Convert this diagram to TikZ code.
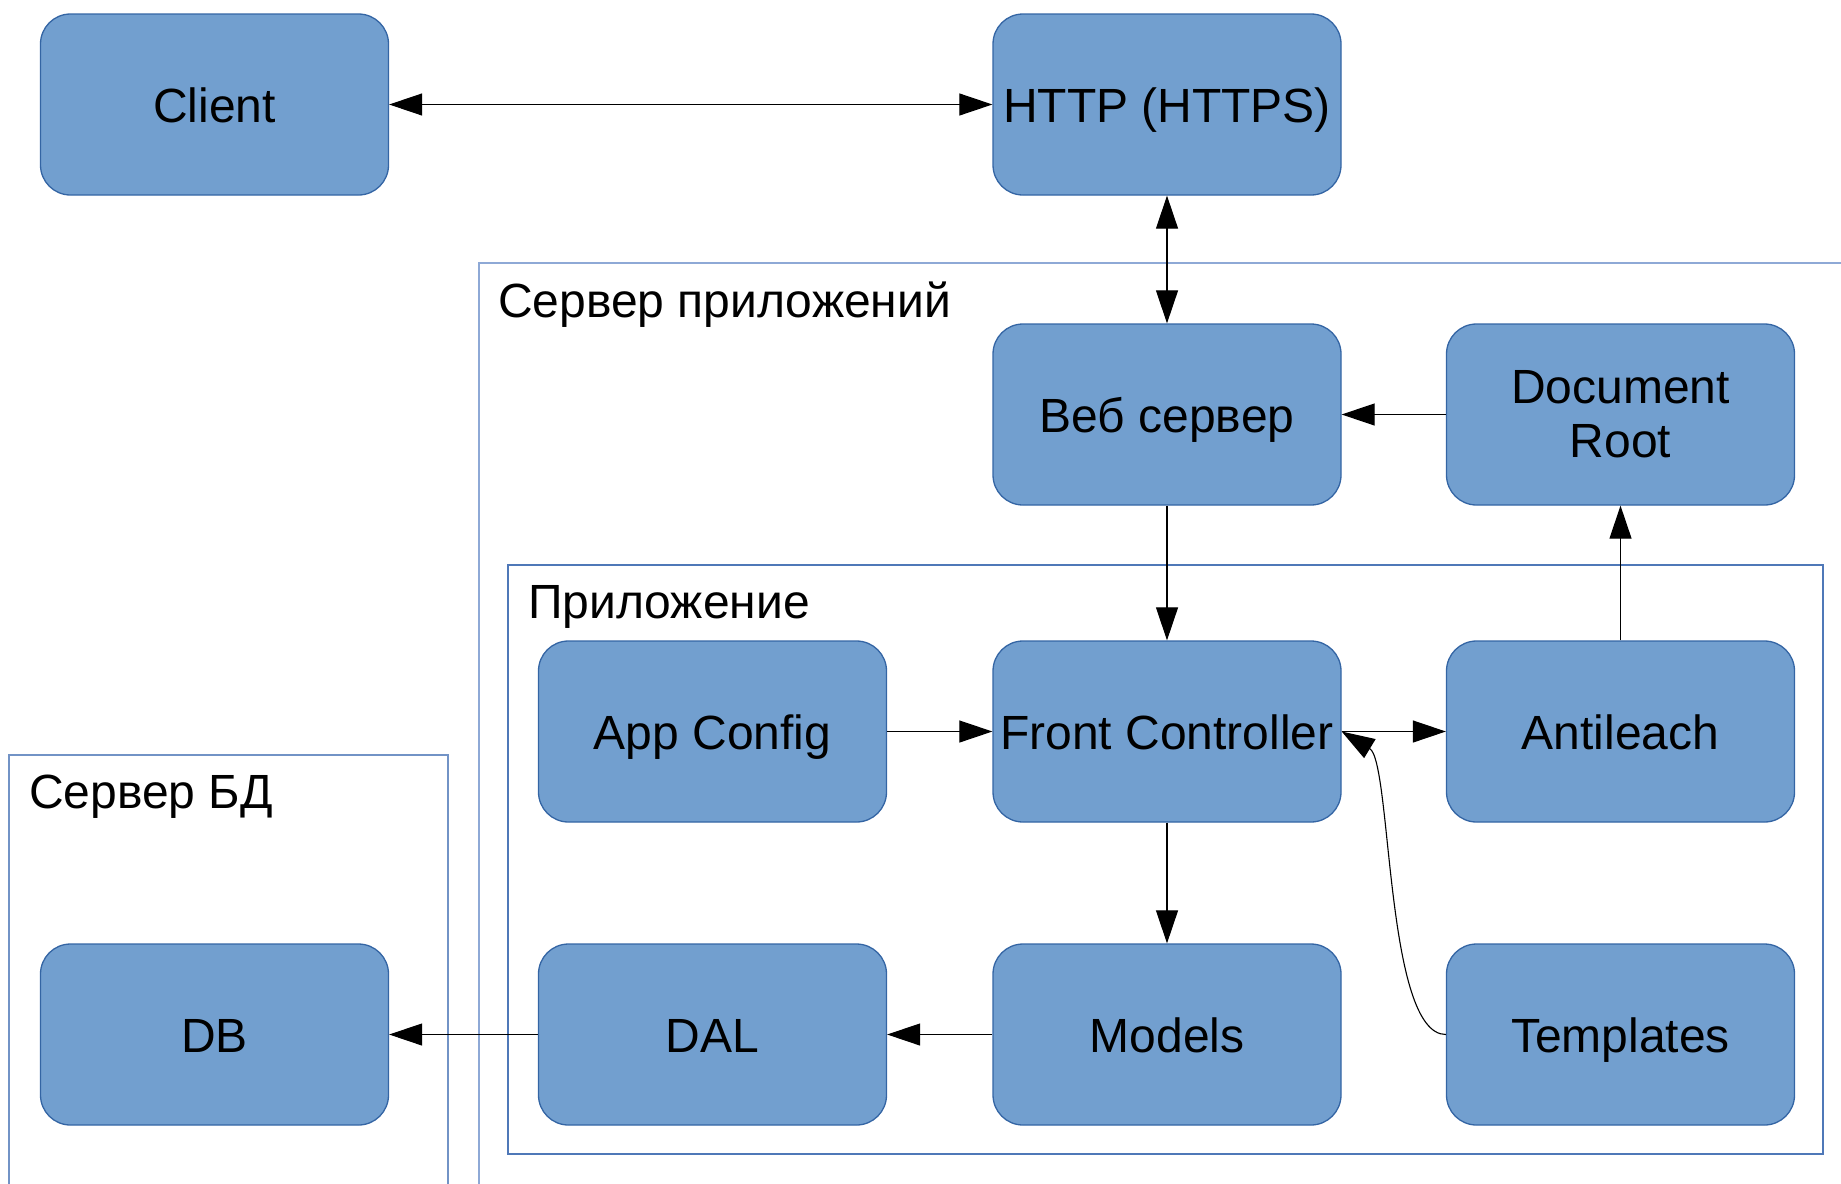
\documentclass[tikz,border=0pt]{standalone}
\usepackage{fontspec}
\setmainfont{Liberation Sans}
\usetikzlibrary{arrows.meta}
\definecolor{boxfill}{HTML}{729FCF}
\definecolor{boxline}{HTML}{3465A4}
\definecolor{contA}{HTML}{8EA9D6}
\definecolor{contB}{HTML}{4F78B8}
\tikzset{
  blkbase/.style={draw=boxline, line width=1.3pt, fill=boxfill, rounded corners=30pt,
    minimum width=348pt, minimum height=181pt, inner sep=0pt, align=center,
    font=\fontsize{48}{54}\selectfont},
  blk/.style={blkbase, text height=35pt, text depth=0pt},
  cont/.style={line width=1.3pt},
  lbl/.style={anchor=base west, inner sep=0pt, font=\fontsize{48}{54}\selectfont},
  conn/.style={line width=1.1pt, -{Triangle[length=33pt,width=22pt]}},
  dconn/.style={line width=1.1pt, {Triangle[length=33pt,width=22pt]}-{Triangle[length=33pt,width=22pt]}}
}
\begin{document}
\begin{tikzpicture}[x=1pt,y=-1pt]
\useasboundingbox (0,0) rectangle (1841,1183);
\clip (0,0) rectangle (1841,1183);
% containers
\draw[cont, draw=contA] (479,263) rectangle (1860,1200);
\draw[cont, draw=contB] (508,565) rectangle (1823,1154);
\draw[cont, draw=contB!80!white] (9,755) rectangle (448,1200);
\node[lbl] (lapp) at (498,317) {Сервер приложений};
\node[lbl] (lprog) at (528,618) {Приложение};
\node[lbl] (ldb) at (29,808) {Сервер БД};
% nodes
\node[blk] (client) at (214.5,104.5) {Client};
\node[blk] (http) at (1167,104.5) {HTTP (HTTPS)};
\node[blk] (web) at (1167,414.5) {Веб сервер};
\node[blkbase] (docroot) at (1620.5,414.5) {Document\\Root};
\node[blk] (appcfg) at (712.5,731.5) {App Config};
\node[blk] (fc) at (1167,731.5) {Front Controller};
\node[blk] (anti) at (1620.5,731.5) {Antileach};
\node[blk] (db) at (214.5,1034.5) {DB};
\node[blk] (dal) at (712.5,1034.5) {DAL};
\node[blk] (models) at (1167,1034.5) {Models};
\node[blk] (tmpl) at (1620.5,1034.5) {Templates};
% connectors
\draw[dconn] (client.east) -- (http.west);
\draw[dconn] (http.south) -- (web.north);
\draw[conn] (docroot.west) -- (web.east);
\draw[conn] (web.south) -- (fc.north);
\draw[conn] (anti.north) -- (docroot.south);
\draw[conn] (appcfg.east) -- (fc.west);
\draw[conn] (fc.east) -- (anti.west);
\draw[conn] (fc.south) -- (models.north);
\draw[conn] (models.west) -- (dal.east);
\draw[conn] (dal.west) -- (db.east);
\draw[conn] (tmpl.west) .. controls (1385,1034.5) and (1392,762) .. (fc.east);
\end{tikzpicture}
\end{document}
